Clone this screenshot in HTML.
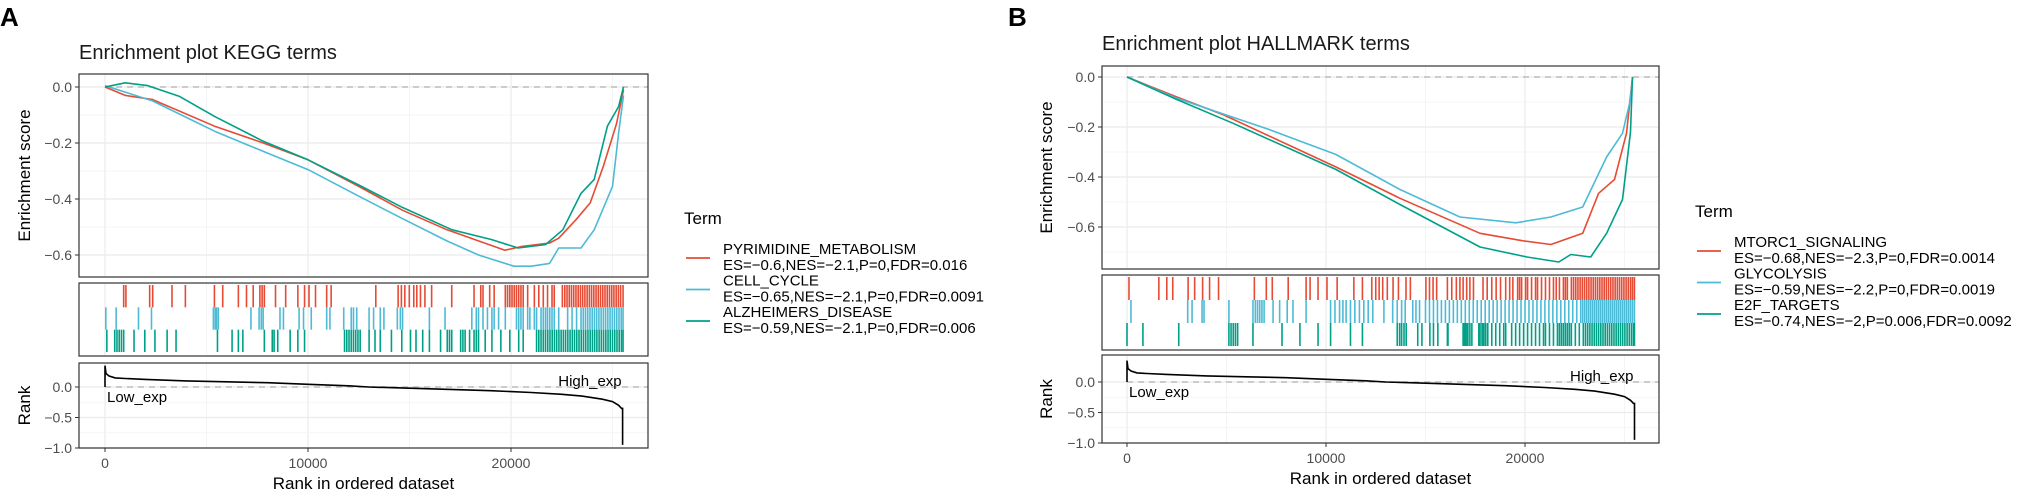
<!DOCTYPE html>
<html><head><meta charset="utf-8"><style>
html,body{margin:0;padding:0;background:#fff;}
svg{display:block;font-family:"Liberation Sans",Arial,sans-serif;}
</style></head><body>
<svg id="fig" width="2025" height="491" viewBox="0 0 2025 491" xmlns="http://www.w3.org/2000/svg"></svg>
<script>
// ---------- Panel A (KEGG) data ----------
const keggRedRank=[0,1000,2350,5400,7800,10000,12500,14650,16850,19700,20500,21900,22350,23200,23900,24550,25200,25540];
const keggRedES=[0,-0.03,-0.045,-0.14,-0.2,-0.26,-0.355,-0.44,-0.51,-0.583,-0.57,-0.557,-0.54,-0.474,-0.414,-0.283,-0.13,-0.01];
const keggBlueRank=[0,2350,5400,7800,10000,12500,14650,16850,18400,20150,21000,21900,22350,23450,24100,25000,25300,25540];
const keggBlueES=[0.005,-0.05,-0.158,-0.23,-0.295,-0.39,-0.47,-0.55,-0.6,-0.64,-0.64,-0.63,-0.575,-0.575,-0.51,-0.355,-0.165,-0.03];
const keggGreenRank=[0,1000,2100,3650,5400,7800,10000,12500,14650,17100,19050,20350,21700,22550,23450,24100,24750,25300,25540];
const keggGreenES=[0,0.015,0.005,-0.033,-0.105,-0.194,-0.26,-0.35,-0.43,-0.51,-0.545,-0.575,-0.563,-0.51,-0.38,-0.33,-0.14,-0.07,0];
const keggRedHits=[920,1030,2200,2350,3300,3960,5390,5800,6570,6970,7300,7630,7740,7850,8400,8900,9500,9830,10050,10370,10920,11140,13340,14440,14600,14770,14990,15210,15360,15540,15760,16090,17080,18180,18510,18620,18950,19170,19720,19830,19940,20050,20160,20270,20380,20490,20600,20820,21150,21370,21590,21800,22020,22130,22530,22650,22760,22870,22980,23090,23200,23310,23420,23530,23640,23750,23860,23970,24080,24190,24300,24410,24520,24630,24740,24850,24960,25070,25180,25290,25400,25520];
const keggBlueHits=[40,550,1650,2290,5340,5430,5490,5580,7190,7590,7700,7790,8620,8790,9560,9780,10160,10920,11080,11760,12130,12240,12400,13010,13230,13560,13740,14400,14550,14660,15980,16750,18070,18290,18400,18620,18840,19060,19170,19390,19720,20270,20380,20490,20600,20820,20930,21150,21260,21480,21590,21700,21800,21910,22020,22130,22350,22790,23010,23230,23450,23560,23670,23780,23890,24000,24110,24220,24330,24440,24550,24660,24770,24880,24990,25100,25210,25320,25430,25520];
const keggGreenHits=[90,480,590,700,810,920,1430,1960,2460,3060,3500,5540,6260,6570,6790,7850,8240,8330,8510,9120,9500,9830,11800,11910,12020,12130,12240,12350,12460,12570,13010,13300,13560,14110,14620,15050,15320,15650,15980,16530,16860,16970,17080,17520,17630,17740,17960,18180,18290,18400,18730,19060,19500,19940,20380,20600,21260,21370,21480,21590,21700,21810,21920,22030,22140,22250,22360,22470,22580,22690,22800,22910,23020,23130,23240,23350,23460,23570,23680,23790,23900,24010,24120,24230,24340,24450,24560,24670,24780,24890,25000,25110,25220,25330,25440,25520];
// ---------- Panel B (HALLMARK) data ----------
const hallRedRank=[0,2500,4870,10500,13720,17740,19900,21300,22900,23700,24500,25100,25400];
const hallRedES=[0,-0.08,-0.152,-0.36,-0.485,-0.625,-0.655,-0.67,-0.625,-0.465,-0.41,-0.225,0];
const hallBlueRank=[0,2500,7140,10500,13720,16730,19550,21300,22900,24100,24900,25300,25400];
const hallBlueES=[0,-0.085,-0.21,-0.31,-0.45,-0.56,-0.583,-0.56,-0.52,-0.32,-0.225,-0.09,0];
const hallGreenRank=[0,2500,5330,10500,13720,17740,20100,21700,22300,23300,24100,24900,25300,25400];
const hallGreenES=[0,-0.09,-0.185,-0.37,-0.51,-0.68,-0.72,-0.74,-0.71,-0.72,-0.625,-0.49,-0.22,0];
const hallRedHits=[100,1600,2000,2300,3070,3400,3800,4150,4600,6400,7000,7300,8100,9000,9200,9600,10050,10560,11400,11830,12300,12500,12670,12850,13080,13370,13640,14020,14240,15020,15200,15380,15560,16100,16320,16550,16730,16890,17070,17230,17410,17890,18100,18330,18550,18770,19030,19230,19390,19630,19730,19830,20030,20130,20330,20530,20630,20830,21030,21230,21430,21570,21730,21930,22030,22130,22330,22440,22550,22660,22770,22880,22990,23100,23210,23320,23430,23540,23650,23760,23870,23980,24090,24200,24310,24420,24530,24640,24750,24860,24970,25080,25190,25300,25400,25500];
const hallBlueHits=[200,3050,3270,3770,3870,5120,6330,6450,6560,6670,6780,6890,7340,7670,8050,8340,9000,10230,10450,10680,10850,11010,11230,11450,11680,11900,12120,12350,12910,13350,13580,13800,13980,14360,14520,14700,15000,15200,15400,15600,15800,16000,16200,16400,16600,16800,17000,17200,17400,17600,17800,18000,18200,18400,18600,18800,19000,19200,19400,19600,19800,20000,20200,20400,20600,20800,21000,21200,21400,21600,21800,22000,22200,22400,22600,22800,22900,23000,23100,23200,23300,23400,23500,23600,23700,23800,23900,24000,24100,24200,24300,24400,24500,24600,24700,24800,24900,25000,25100,25200,25300,25400,25500];
const hallGreenHits=[0,800,2600,5120,5230,5340,5450,5560,6330,7790,8690,9600,10230,11230,11830,13580,13700,13800,13920,14030,14610,14820,15220,15400,15620,16100,16130,16890,16930,17000,17040,17110,17130,17230,17330,17680,17740,17840,17890,17940,18030,18130,18330,18530,18730,18930,19030,19330,19530,19730,19930,20130,20330,20530,20730,20930,21030,21230,21430,21630,21730,21830,21930,22030,22130,22230,22330,22530,22730,22930,23040,23150,23260,23370,23480,23590,23700,23810,23920,24030,24140,24250,24360,24470,24580,24690,24800,24910,25020,25130,25240,25350,25450,25500];
// ---------- ranked metric (shared shape) ----------
const metricRank=[0,50,200,500,1000,2000,4000,6000,8000,10000,12000,13000,15000,17000,19000,21000,22500,23500,24500,25000,25300,25450];
const metricValue=[0.35,0.22,0.18,0.15,0.14,0.125,0.1,0.085,0.07,0.045,0.02,0,-0.02,-0.04,-0.06,-0.09,-0.12,-0.15,-0.2,-0.24,-0.3,-0.35];
const metricEndRank=25500;
const metricEndMin=-0.95;
// ---------- ticks ----------
const xTicks=[0,10000,20000];
const xTickLabels=["0","10000","20000"];
const esTicks=[0,-0.2,-0.4,-0.6];
const esTickLabels=["0.0","\u22120.2","\u22120.4","\u22120.6"];
const rankTicks=[0,-0.5,-1.0];
const rankTickLabels=["0.0","\u22120.5","\u22121.0"];
const keggTerms=["PYRIMIDINE_METABOLISM","CELL_CYCLE","ALZHEIMERS_DISEASE"];
const keggStats=["ES=\u22120.6,NES=\u22122.1,P=0,FDR=0.016","ES=\u22120.65,NES=\u22122.1,P=0,FDR=0.0091","ES=\u22120.59,NES=\u22122.1,P=0,FDR=0.006"];
const hallTerms=["MTORC1_SIGNALING","GLYCOLYSIS","E2F_TARGETS"];
const hallStats=["ES=\u22120.68,NES=\u22122.3,P=0,FDR=0.0014","ES=\u22120.59,NES=\u22122.2,P=0,FDR=0.0019","ES=\u22120.74,NES=\u22122,P=0.006,FDR=0.0092"];
const colors=["#E64B35","#4DBBD5","#00A087"];

const NS="http://www.w3.org/2000/svg";
const svg=document.getElementById('fig');
function mk(tag,attrs,parent,text){const e=document.createElementNS(NS,tag);for(const k in attrs)e.setAttribute(k,attrs[k]);if(text!==undefined)e.textContent=text;(parent||svg).appendChild(e);return e;}

function drawPanel(P){
  const g=mk('g',{});
  
  
  const sx=r=>P.x0+r*P.kx;
  const sy=v=>P.esZero-v*P.esK;
  const ry=v=>P.rkZero-v*P.rkK;
  // panel label & title
  const lab=mk('text',{x:P.labX,y:26,'font-size':26,'font-weight':'bold',fill:'#000'},g,P.letter);
  
  
  const tt=mk('text',{x:P.titleX,y:P.titleY,'font-size':20,fill:'#1a1a1a'},g,P.title);
  
  
  // ---- top ES panel
  const top=mk('g',{},g);
  
  
  mk('rect',{x:P.L,y:P.t1,width:P.R-P.L,height:P.b1-P.t1,fill:'#fff'},top);
  [5000,15000,25000].forEach(r=>mk('line',{x1:sx(r),x2:sx(r),y1:P.t1,y2:P.b1,stroke:'#f2f2f2','stroke-width':0.8},top));
  xTicks.forEach(r=>mk('line',{x1:sx(r),x2:sx(r),y1:P.t1,y2:P.b1,stroke:'#ebebeb','stroke-width':1.2},top));
  [-0.1,-0.3,-0.5,-0.7].forEach(v=>{if(sy(v)<P.b1)mk('line',{x1:P.L,x2:P.R,y1:sy(v),y2:sy(v),stroke:'#f2f2f2','stroke-width':0.8},top);});
  esTicks.forEach((v,i)=>{
    mk('line',{x1:P.L,x2:P.R,y1:sy(v),y2:sy(v),stroke:'#ebebeb','stroke-width':1.2},top);
    mk('line',{x1:P.L-4,x2:P.L,y1:sy(v),y2:sy(v),stroke:'#333','stroke-width':1},top);
    const t=mk('text',{x:P.L-7,y:sy(v)+5,'font-size':14,fill:'#4d4d4d','text-anchor':'end'},top,esTickLabels[i]);
    
    
  });
  mk('line',{x1:sx(0),x2:P.R,y1:sy(0),y2:sy(0),stroke:'#bdbdbd','stroke-width':1.5,'stroke-dasharray':'6,5'},top);
  P.curves.forEach((c,i)=>{
    const pts=c.r.map((r,j)=>sx(r).toFixed(1)+','+sy(c.v[j]).toFixed(1)).join(' ');
    const pl=mk('polyline',{points:pts,fill:'none',stroke:colors[i],'stroke-width':1.6,'stroke-linejoin':'round'},top);
    
    
  });
  mk('rect',{x:P.L,y:P.t1,width:P.R-P.L,height:P.b1-P.t1,fill:'none',stroke:'#333','stroke-width':1.2},top);
  const yt=mk('text',{transform:`translate(${P.yTitleX},${(P.t1+P.b1)/2}) rotate(-90)`,'font-size':17,fill:'#000','text-anchor':'middle'},g,'Enrichment score');
  
  
  // ---- rug panel
  const rug=mk('g',{},g);
  
  
  [5000,15000,25000].forEach(r=>mk('line',{x1:sx(r),x2:sx(r),y1:P.t2,y2:P.b2,stroke:'#f2f2f2','stroke-width':0.8},rug));
  xTicks.forEach(r=>mk('line',{x1:sx(r),x2:sx(r),y1:P.t2,y2:P.b2,stroke:'#ebebeb','stroke-width':1.2},rug));
  const bh=(P.b2-P.t2-6)/3;
  P.hits.forEach((h,i)=>{
    const y1=P.t2+2+i*bh, y2=y1+bh;
    h.forEach(r=>{
      const ln=mk('line',{x1:sx(r),x2:sx(r),y1:y1,y2:y2,stroke:colors[i],'stroke-width':1.6},rug);
      
      
    });
  });
  mk('rect',{x:P.L,y:P.t2,width:P.R-P.L,height:P.b2-P.t2,fill:'none',stroke:'#333','stroke-width':1.2},rug);
  // ---- rank panel
  const rk=mk('g',{},g);
  
  
  [5000,15000,25000].forEach(r=>mk('line',{x1:sx(r),x2:sx(r),y1:P.t3,y2:P.b3,stroke:'#f2f2f2','stroke-width':0.8},rk));
  xTicks.forEach(r=>mk('line',{x1:sx(r),x2:sx(r),y1:P.t3,y2:P.b3,stroke:'#ebebeb','stroke-width':1.2},rk));
  [-0.25,-0.75].forEach(v=>mk('line',{x1:P.L,x2:P.R,y1:ry(v),y2:ry(v),stroke:'#f2f2f2','stroke-width':0.8},rk));
  rankTicks.forEach((v,i)=>{
    mk('line',{x1:P.L,x2:P.R,y1:ry(v),y2:ry(v),stroke:'#ebebeb','stroke-width':1.2},rk);
    mk('line',{x1:P.L-4,x2:P.L,y1:ry(v),y2:ry(v),stroke:'#333','stroke-width':1},rk);
    const t=mk('text',{x:P.L-7,y:ry(v)+5,'font-size':14,fill:'#4d4d4d','text-anchor':'end'},rk,rankTickLabels[i]);
    
    
  });
  mk('line',{x1:sx(0),x2:P.R,y1:ry(0),y2:ry(0),stroke:'#bdbdbd','stroke-width':1.5,'stroke-dasharray':'6,5'},rk);
  let mp=sx(0).toFixed(1)+','+ry(0).toFixed(1)+' ';
  mp+=metricRank.map((r,j)=>sx(r).toFixed(1)+','+ry(metricValue[j]).toFixed(1)).join(' ');
  mp+=' '+sx(metricEndRank).toFixed(1)+','+ry(metricValue[metricValue.length-1]).toFixed(1)+' '+sx(metricEndRank).toFixed(1)+','+ry(metricEndMin).toFixed(1);
  const ml=mk('polyline',{points:mp,fill:'none',stroke:'#000','stroke-width':1.6},rk);
  
  
  const lo=mk('text',{x:sx(0)+2,y:ry(0)+15,'font-size':15,fill:'#000'},rk,'Low_exp');
  
  
  const hi=mk('text',{x:sx(metricEndRank)-1,y:ry(0)-1,'font-size':15,fill:'#000','text-anchor':'end'},rk,'High_exp');
  
  
  mk('rect',{x:P.L,y:P.t3,width:P.R-P.L,height:P.b3-P.t3,fill:'none',stroke:'#333','stroke-width':1.2},rk);
  xTicks.forEach((r,i)=>{
    mk('line',{x1:sx(r),x2:sx(r),y1:P.b3,y2:P.b3+4,stroke:'#333','stroke-width':1},rk);
    const t=mk('text',{x:sx(r),y:P.b3+20,'font-size':14,fill:'#4d4d4d','text-anchor':'middle'},rk,xTickLabels[i]);
    
    
  });
  const yr=mk('text',{transform:`translate(${P.yTitleX},${(P.t3+P.b3)/2}) rotate(-90)`,'font-size':17,fill:'#000','text-anchor':'middle'},g,'Rank');
  
  
  const xt=mk('text',{x:(P.L+P.R)/2,y:P.b3+41,'font-size':17,fill:'#000','text-anchor':'middle'},g,'Rank in ordered dataset');
  
  
  // ---- legend
  const lg=mk('g',{},g);
  
  
  mk('text',{x:P.legX,y:P.legY,'font-size':17,fill:'#000'},lg,'Term');
  P.terms.forEach((term,i)=>{
    const cy=P.legY+26+i*31.5;
    const e=mk('g',{},lg);
    
    
    mk('line',{x1:P.legX+2,x2:P.legX+26,y1:cy+8,y2:cy+8,stroke:colors[i],'stroke-width':1.8},e);
    mk('text',{x:P.legX+39,y:cy+4,'font-size':15,fill:'#000'},e,term);
    mk('text',{x:P.legX+39,y:cy+20,'font-size':15,fill:'#000'},e,P.stats[i]);
  });
}

drawPanel({id:'kegg',letter:'A',labX:0,title:'Enrichment plot KEGG terms',titleX:79,titleY:59,
  L:79,R:648,t1:74,b1:277,t2:283,b2:356,t3:363,b3:448,x0:105,kx:0.0203,esZero:87,esK:280,rkZero:387,rkK:61,yTitleX:30,
  curves:[{r:keggRedRank,v:keggRedES},{r:keggBlueRank,v:keggBlueES},{r:keggGreenRank,v:keggGreenES}],
  hits:[keggRedHits,keggBlueHits,keggGreenHits],terms:keggTerms,stats:keggStats,legX:684,legY:224});
drawPanel({id:'hallmark',letter:'B',labX:1008,title:'Enrichment plot HALLMARK terms',titleX:1102,titleY:50,
  L:1102,R:1659,t1:66,b1:269,t2:275,b2:350,t3:355,b3:443,x0:1127,kx:0.0199,esZero:77,esK:250,rkZero:382,rkK:61,yTitleX:1052,
  curves:[{r:hallRedRank,v:hallRedES},{r:hallBlueRank,v:hallBlueES},{r:hallGreenRank,v:hallGreenES}],
  hits:[hallRedHits,hallBlueHits,hallGreenHits],terms:hallTerms,stats:hallStats,legX:1695,legY:217});
</script>
</body></html>
